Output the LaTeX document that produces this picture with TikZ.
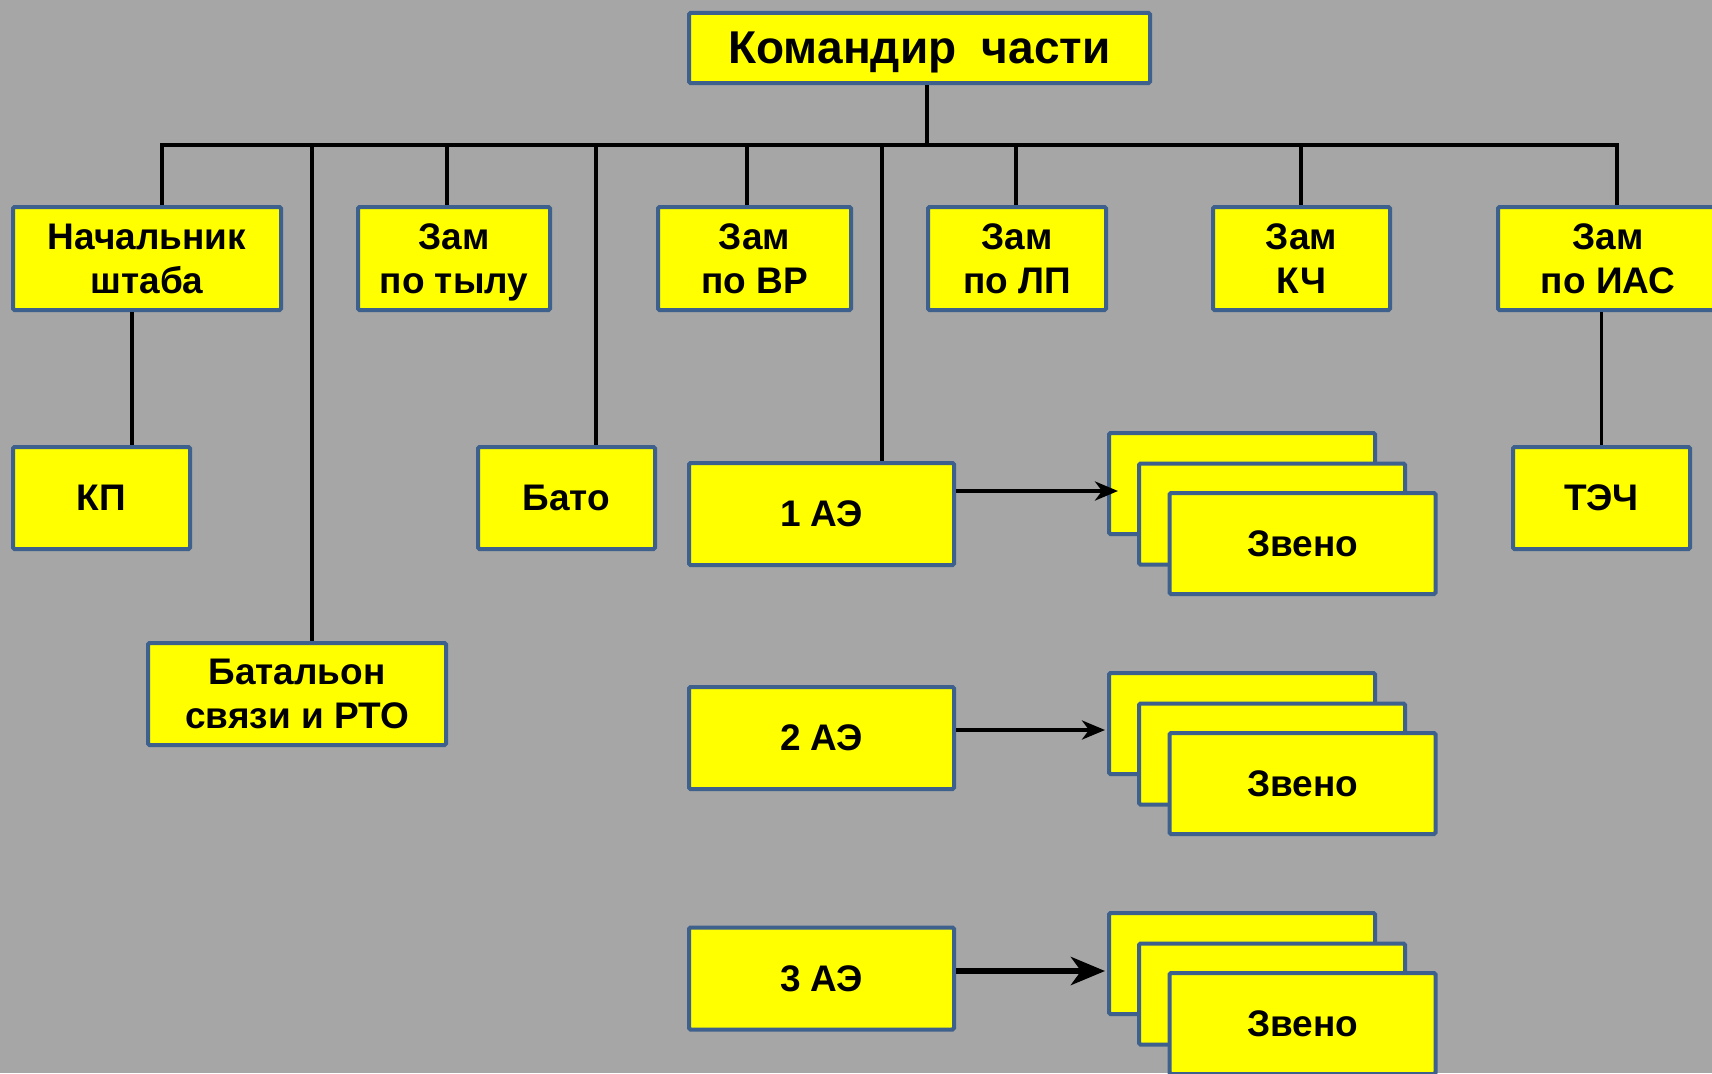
\documentclass[tikz,border=0pt]{standalone}
\usepackage{fontspec}
\setmainfont{Liberation Sans}
\usetikzlibrary{arrows.meta}
\definecolor{bg}{RGB}{166,166,166}
\definecolor{boxline}{RGB}{62,96,140}
\definecolor{boxfill}{RGB}{255,255,0}
\begin{document}
\begin{tikzpicture}[x=1pt,y=-1pt,
  box/.style={draw=boxline, fill=boxfill, line width=4pt, rounded corners=1.5pt,
    inner sep=0pt, align=center, text=black, text depth=0pt,
    font=\bfseries\fontsize{37}{44}\selectfont},
  conn/.style={line width=3.8pt, black},
  arrthin/.style={line width=4pt, black, -{Stealth[length=23pt,width=19pt,inset=7pt]}},
  arrthick/.style={line width=6pt, black, -{Stealth[length=34pt,width=28pt,inset=10pt]}}]

\fill[bg] (0,0) rectangle (1712,1073);
\useasboundingbox (0,0) rectangle (1712,1073);

% commander
\node[box, minimum width=461, minimum height=70,
      font=\bfseries\fontsize{46}{52}\selectfont] (cmd) at (919.5,48) {Командир\ \ части};

% first row
\node[box, minimum width=268, minimum height=103] (nsh) at (147,258.5) {Начальник\\штаба};
\node[box, minimum width=192, minimum height=103] (tyl) at (454,258.5) {Зам\\по тылу};
\node[box, minimum width=193, minimum height=103] (vr)  at (754.5,258.5) {Зам\\по ВР};
\node[box, minimum width=178, minimum height=103] (lp)  at (1017,258.5) {Зам\\по ЛП};
\node[box, minimum width=177, minimum height=103] (kch) at (1301.5,258.5) {Зам\\КЧ};
\node[box, minimum width=220, minimum height=103] (ias) at (1608,258.5) {Зам\\по ИАС};

% second level
\node[box, minimum width=177, minimum height=102] (kp)   at (101.5,498) {КП};
\node[box, minimum width=177, minimum height=102] (bato) at (566.5,498) {Бато};
\node[box, minimum width=177, minimum height=102] (tech) at (1601.5,498) {ТЭЧ};
\node[box, minimum width=298, minimum height=102] (bat)  at (297,694) {Батальон\\связи и РТО};

\node[box, minimum width=265, minimum height=102] (ae1) at (821.5,514) {1 АЭ};
\node[box, minimum width=265, minimum height=102] (ae2) at (821.5,738) {2 АЭ};
\node[box, minimum width=265, minimum height=102] (ae3) at (821.5,978.5) {3 АЭ};

% zveno stacks
\node[box, minimum width=266, minimum height=101] (z1a) at (1242,483.5) {};
\node[box, minimum width=266, minimum height=101] (z1b) at (1272,514) {};
\node[box, minimum width=266, minimum height=101] (z1c) at (1302.5,543.5) {Звено};
\node[box, minimum width=266, minimum height=101] (z2a) at (1242,723.5) {};
\node[box, minimum width=266, minimum height=101] (z2b) at (1272,754) {};
\node[box, minimum width=266, minimum height=101] (z2c) at (1302.5,783.5) {Звено};
\node[box, minimum width=266, minimum height=101] (z3a) at (1242,963.5) {};
\node[box, minimum width=266, minimum height=101] (z3b) at (1272,994) {};
\node[box, minimum width=266, minimum height=101] (z3c) at (1302.5,1023.5) {Звено};

% bus coordinates
\coordinate (b0) at (927,145);
\coordinate (b1) at (162,145);
\coordinate (b2) at (312,145);
\coordinate (b3) at (447,145);
\coordinate (b4) at (596,145);
\coordinate (b5) at (747,145);
\coordinate (b6) at (882,145);
\coordinate (b7) at (1016,145);
\coordinate (b8) at (1301,145);
\coordinate (b9) at (1617,145);
\coordinate (kpx) at (132,400);

\draw[conn] (nsh.north -| b1) -- (b1) -- (b9) -- (ias.north -| b9);
\draw[conn] (cmd.south -| b0) -- (b0);
\draw[conn] (b2) -- (bat.north -| b2);
\draw[conn] (b3) -- (tyl.north -| b3);
\draw[conn] (b4) -- (bato.north -| b4);
\draw[conn] (b5) -- (vr.north -| b5);
\draw[conn] (b6) -- (ae1.north -| b6);
\draw[conn] (b7) -- (lp.north -| b7);
\draw[conn] (b8) -- (kch.north -| b8);
\draw[conn] (nsh.south -| kpx) -- (kp.north -| kpx);
\draw[conn] (ias.south -| tech.north) -- (tech.north);

% arrows
\coordinate (a1) at (1118,491);
\coordinate (a2) at (1105,730);
\coordinate (a3) at (1105,971);
\draw[arrthin] (ae1.east |- a1) -- (a1);
\draw[arrthin] (ae2.east |- a2) -- (a2);
\draw[arrthick] (ae3.east |- a3) -- (a3);
\end{tikzpicture}
\end{document}
